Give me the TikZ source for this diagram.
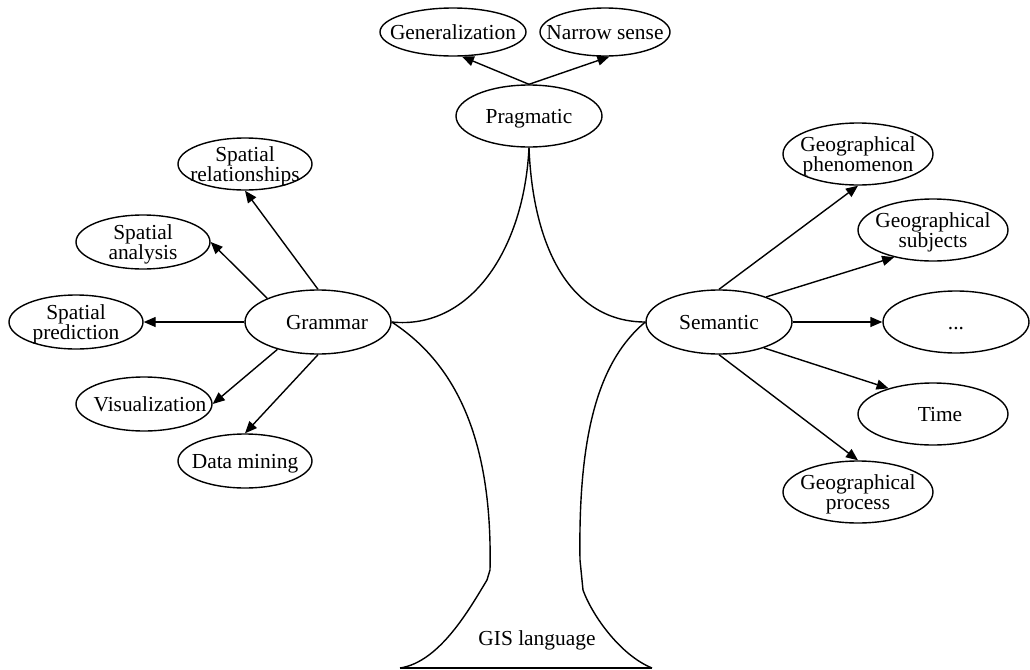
\documentclass[tikz,border=0pt]{standalone}
\usepackage{fontspec}
\usepackage{calc}
\setmainfont{Liberation Serif}
\usetikzlibrary{shapes.geometric,arrows.meta}
% centred text that does not enlarge the surrounding ellipse
\newcommand\ctext[1]{\smash{\makebox[0pt]{\raisebox{-0.5\height+0.5\depth-1.5pt}{%
  \begin{tabular}{@{}c@{}}#1\end{tabular}}}}}
\begin{document}
\begin{tikzpicture}[x=0.5pt,y=-0.5pt,
  oval/.style 2 args={ellipse,draw,line width=0.7pt,inner sep=0pt,
    minimum width=#1,minimum height=#2,
    font=\fontsize{10.7}{10}\selectfont},
  link/.style={line width=0.7pt,-{Triangle[length=6pt,width=5pt]}},
  trunk/.style={line width=0.7pt}]
\useasboundingbox (0,0) rectangle (1030,670);

% pragmatic branch
\node[oval={73pt}{24pt}] (gen)  at (453,32)  {\ctext{Generalization}};
\node[oval={65pt}{24pt}] (nar)  at (605,32)  {\ctext{Narrow sense}};
\node[oval={73pt}{31pt}] (prag) at (529,116) {\ctext{Pragmatic}};

% grammar branch
\node[oval={67pt}{26pt}] (sprel) at (245,164) {\ctext{Spatial\\relationships}};
\node[oval={67pt}{27pt}] (span)  at (143,242) {\ctext{Spatial\\analysis}};
\node[oval={67pt}{27pt}] (spred) at (76,322)  {\ctext{Spatial\\prediction}};
\node[oval={73pt}{32pt}] (gram)  at (318,322) {\ctext{\hspace{9pt}Grammar}};
\node[oval={68pt}{27pt}] (vis)   at (144,404) {\ctext{\hspace{6pt}Visualization}};
\node[oval={67pt}{27pt}] (dmin)  at (245,461) {\ctext{Data mining}};

% semantic branch
\node[oval={75pt}{31pt}] (phen) at (858,154) {\ctext{Geographical\\phenomenon}};
\node[oval={75pt}{31pt}] (subj) at (933,230) {\ctext{Geographical\\subjects}};
\node[oval={73pt}{32pt}] (sem)  at (719,322) {\ctext{Semantic}};
\node[oval={73pt}{31pt}] (dots) at (956,322) {\ctext{...}};
\node[oval={75pt}{31pt}] (time) at (933,414) {\ctext{\hspace{7pt}Time}};
\node[oval={75pt}{31pt}] (proc) at (858,492) {\ctext{Geographical\\process}};

% arrows
\draw[link] (prag.north) -- (gen.-70);
\draw[link] (prag.north) -- (nar.-80);

\draw[link] (gram.north) -- (sprel.south);
\draw[link] (gram.155)   -- (span.east);
\draw[link] (gram.west)  -- (spred.east);
\draw[link] (gram.214)   -- (vis.east);
\draw[link] (gram.south) -- (dmin.north);

\draw[link] (sem.north) -- (phen.south);
\draw[link] (sem.28)    -- (subj.215);
\draw[link] (sem.east)  -- (dots.west);
\draw[link] (sem.-30)   -- (time.150);
\draw[link] (sem.south) -- (proc.north);

% tree trunk
\coordinate (kinkL) at (487,580);
\coordinate (kinkR) at (583,590);
\coordinate (baseL) at (400,668);
\coordinate (baseR) at (652,668);

\draw[trunk] (gram.east) .. controls (470,330) and (524,250) .. (prag.south);
\draw[trunk] (prag.south) .. controls (533,250) and (572,322) .. (sem.west);
\draw[trunk] (gram.east) .. controls (450,360) and (493,430) .. (490,570)
  -- (kinkL) .. controls (470,608) and (440,662) .. (baseL);
\draw[trunk] (sem.west) .. controls (600,360) and (578,430) .. (580,560)
  -- (kinkR) .. controls (592,615) and (620,655) .. (baseR);
\draw[trunk] (baseL) -- (baseR);

\node[font=\fontsize{10.7}{10}\selectfont] (gis) at (537,640) {GIS language};
\end{tikzpicture}
\end{document}
